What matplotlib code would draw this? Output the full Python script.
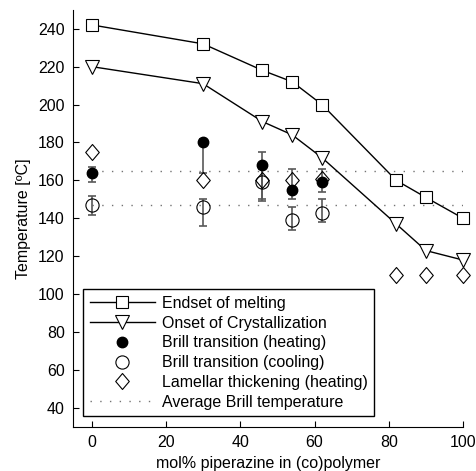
import matplotlib
matplotlib.use("Agg")
import matplotlib.pyplot as plt
from matplotlib.lines import Line2D
from matplotlib.path import Path

plt.rcParams['font.family'] = ['Liberation Sans', 'DejaVu Sans']

# Data
x_all = [0, 30, 46, 54, 62, 82, 90, 100]
endset_melting = [242, 232, 218, 212, 200, 160, 151, 140]
onset_cryst = [220, 211, 191, 184, 172, 137, 123, 118]

x_brill = [0, 30, 46, 54, 62]
brill_heat = [164, 180, 168, 155, 159]
brill_heat_lo = [159, 164, 149, 150, 154]
brill_heat_hi = [167, 182, 175, 166, 166]
brill_cool = [147, 146, 159, 139, 143]
brill_cool_lo = [142, 136, 150, 134, 138]
brill_cool_hi = [152, 150, 166, 146, 150]

x_lamellar = [0, 30, 46, 54, 62, 82, 90, 100]
lamellar = [175, 160, 160, 160, 161, 110, 110, 110]

avg_brill = [165, 147]
avg_x = [0, 100]

xticks = [0, 20, 40, 60, 80, 100]
yticks = [40, 60, 80, 100, 120, 140, 160, 180, 200, 220, 240]

diamond = Path([(0, 1), (0.85, 0), (0, -1), (-0.85, 0), (0, 1)],
               [Path.MOVETO, Path.LINETO, Path.LINETO, Path.LINETO, Path.CLOSEPOLY])

FS = 11.5
fig = plt.figure(figsize=(4.77, 4.71), dpi=100)
ax = fig.add_axes([0.153, 0.0934, 0.818, 0.886])

# average lines
for v in avg_brill:
    ax.plot(avg_x, [v, v], linestyle=(0, (1, 6)), color='0.45', lw=1.0, zorder=1)

# error bars
hh_err = [[b - l for b, l in zip(brill_heat, brill_heat_lo)], [h - b for b, h in zip(brill_heat, brill_heat_hi)]]
cc_err = [[b - l for b, l in zip(brill_cool, brill_cool_lo)], [h - b for b, h in zip(brill_cool, brill_cool_hi)]]
ax.errorbar(x_brill, brill_heat, yerr=hh_err, fmt='none', ecolor='0.35', elinewidth=1.2, capsize=3, capthick=1.2, zorder=2)
ax.errorbar(x_brill, brill_cool, yerr=cc_err, fmt='none', ecolor='0.35', elinewidth=1.2, capsize=3, capthick=1.2, zorder=2)

sq = dict(color='k', lw=1.0, marker='s', ms=8, mfc='white', mec='k', mew=0.8)
tri = dict(color='k', lw=1.0, marker='v', ms=10, mfc='white', mec='k', mew=0.8)
lam = dict(linestyle='none', marker=diamond, ms=11.5, mfc='none', mec='k', mew=0.8)
heat = dict(linestyle='none', marker='o', ms=7.5, mfc='k', mec='k')
cool = dict(linestyle='none', marker='o', ms=9.5, mfc='none', mec='k', mew=0.8)

ax.plot(x_all, endset_melting, zorder=4, clip_on=False, **sq)
ax.plot(x_all, onset_cryst, zorder=4, clip_on=False, **tri)
ax.plot(x_lamellar, lamellar, zorder=3, clip_on=False, **lam)
ax.plot(x_brill, brill_heat, zorder=5, **heat)
ax.plot(x_brill, brill_cool, zorder=5, **cool)

ax.set_xlim(-5, 100)
ax.set_ylim(30, 250)
ax.set_xticks(xticks)
ax.set_yticks(yticks)
ax.tick_params(direction='in', length=4, width=0.8, labelsize=FS, pad=6)
ax.spines['top'].set_visible(False)
ax.spines['right'].set_visible(False)
ax.set_xlabel('mol% piperazine in (co)polymer', fontsize=FS, labelpad=4)
ax.set_ylabel('Temperature [ºC]', fontsize=FS, labelpad=5)

handles = [
    Line2D([], [], **sq),
    Line2D([], [], **tri),
    Line2D([], [], **heat),
    Line2D([], [], **cool),
    Line2D([], [], **lam),
    Line2D([], [], linestyle=(0, (1, 6)), color='0.45', lw=1.0),
]
labels = ['Endset of melting', 'Onset of Crystallization', 'Brill transition (heating)',
          'Brill transition (cooling)', 'Lamellar thickening (heating)', 'Average Brill temperature']
leg = ax.legend(handles, labels, loc='lower left', bbox_to_anchor=(0.026, 0.026), borderaxespad=0,
                fontsize=FS, handlelength=4.1, handletextpad=0.45, labelspacing=0.3,
                fancybox=False, edgecolor='k', framealpha=1, borderpad=0.4)
leg.get_frame().set_linewidth(1.0)

fig.savefig('out.png', dpi=100)
